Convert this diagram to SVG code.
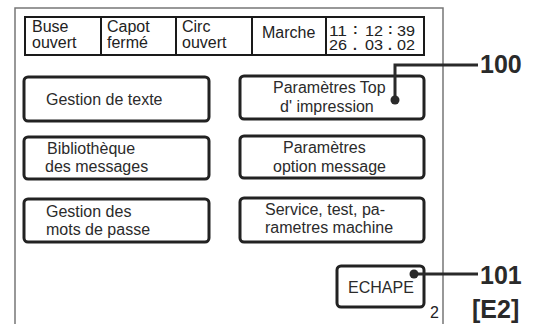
<svg xmlns="http://www.w3.org/2000/svg" width="536" height="324" viewBox="0 0 536 324">
<style>
.frame{fill:none;stroke:#777;stroke-width:1.5}
.bar{fill:none;stroke:#1a1a1a;stroke-width:2}
.btn{fill:#fff;stroke:#222;stroke-width:3}
.t{font-family:"Liberation Sans",Arial,sans-serif;font-size:16px;fill:#2b2b2b}
.s{font-family:"Liberation Sans",Arial,sans-serif;font-size:16px;fill:#222}
.d{font-family:"Liberation Sans",Arial,sans-serif;font-size:14px;fill:#222}
.lbl{font-family:"Liberation Sans",Arial,sans-serif;font-weight:bold;font-size:25px;fill:#2a2a2a}
.lead{fill:none;stroke:#2a2a2a;stroke-width:3}
</style>
<rect width="536" height="324" fill="#fff"/>
<path class="frame" d="M15,324 V8 H443 V324"/>
<g id="status">
<rect class="bar" x="25" y="17" width="399" height="38"/>
<line class="bar" x1="101" y1="17" x2="101" y2="55"/>
<line class="bar" x1="176" y1="17" x2="176" y2="55"/>
<line class="bar" x1="252" y1="17" x2="252" y2="55"/>
<line class="bar" x1="326" y1="17" x2="326" y2="55"/>
<text class="s" x="32" y="32">Buse</text>
<text class="s" x="32" y="48">ouvert</text>
<text class="s" x="107" y="32">Capot</text>
<text class="s" x="107" y="48">fermé</text>
<text class="s" x="182" y="32">Circ</text>
<text class="s" x="182" y="48">ouvert</text>
<text class="s" x="262" y="38">Marche</text>
<text class="d" x="329" y="35.5" textLength="18" lengthAdjust="spacingAndGlyphs">11</text>
<text class="d" x="353" y="34" font-weight="bold">:</text>
<text class="d" x="365" y="35.5" textLength="18" lengthAdjust="spacingAndGlyphs">12</text>
<text class="d" x="388" y="34" font-weight="bold">:</text>
<text class="d" x="397" y="35.5" textLength="18" lengthAdjust="spacingAndGlyphs">39</text>
<text class="d" x="329" y="49.5" textLength="18" lengthAdjust="spacingAndGlyphs">26</text>
<text class="d" x="353" y="49.5" font-weight="bold">.</text>
<text class="d" x="365" y="49.5" textLength="18" lengthAdjust="spacingAndGlyphs">03</text>
<text class="d" x="388" y="49.5" font-weight="bold">.</text>
<text class="d" x="397" y="49.5" textLength="18" lengthAdjust="spacingAndGlyphs">02</text>
</g>
<g id="btn-texte">
<rect class="btn" x="24" y="77" width="185" height="44" rx="4"/>
<text class="t" x="46" y="105">Gestion de texte</text>
</g>
<g id="btn-biblio">
<rect class="btn" x="24" y="137" width="185" height="42" rx="4"/>
<text class="t" x="47" y="154">Bibliothèque</text>
<text class="t" x="45" y="172">des messages</text>
</g>
<g id="btn-mdp">
<rect class="btn" x="24" y="199" width="185" height="43" rx="4"/>
<text class="t" x="46" y="217">Gestion des</text>
<text class="t" x="46" y="235">mots de passe</text>
</g>
<g id="btn-top">
<rect class="btn" x="240" y="76" width="184" height="43" rx="4"/>
<text class="t" x="273" y="93">Paramètres Top</text>
<text class="t" x="280" y="112">d' impression</text>
</g>
<g id="btn-option">
<rect class="btn" x="240" y="136" width="184" height="42" rx="4"/>
<text class="t" x="283" y="153">Paramètres</text>
<text class="t" x="273" y="172">option message</text>
</g>
<g id="btn-service">
<rect class="btn" x="240" y="198" width="184" height="44" rx="4"/>
<text class="t" x="265" y="215">Service, test, pa-</text>
<text class="t" x="265" y="233">rametres machine</text>
</g>
<g id="btn-echape">
<rect class="btn" x="337" y="266" width="87" height="41" rx="4"/>
<text class="t" x="348" y="293">ECHAPE</text>
</g>
<text class="s" x="430" y="318" font-size="14">2</text>
<g id="connectors">
<path class="lead" d="M395,100 V65 H478"/>
<circle cx="395" cy="100" r="4.5" fill="#2a2a2a"/>
<path class="lead" d="M414,274 H478"/>
<circle cx="414" cy="274" r="4.5" fill="#2a2a2a"/>
</g>
<text class="lbl" x="480" y="73">100</text>
<text class="lbl" x="480" y="284">101</text>
<text class="lbl" x="472" y="318" font-size="22">[E2]</text>
</svg>
